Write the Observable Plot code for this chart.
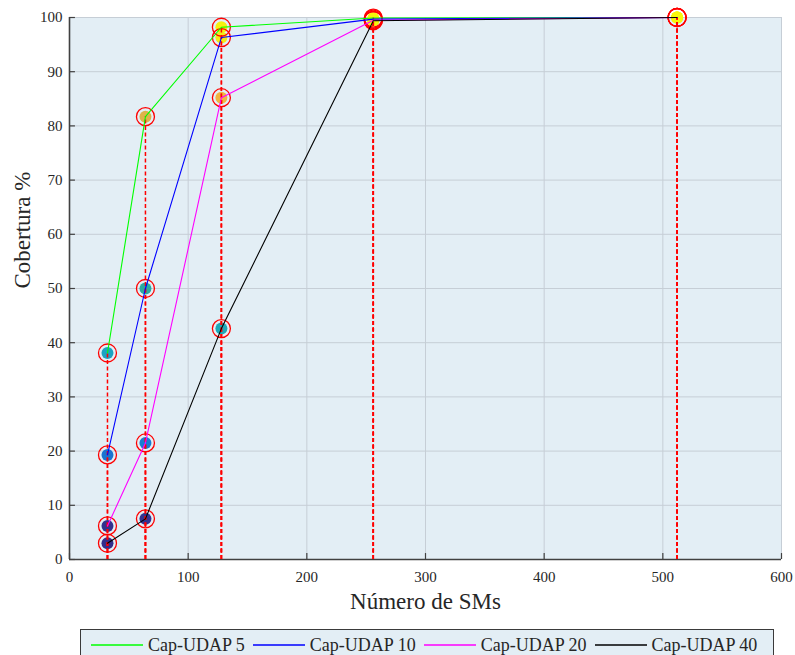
<!DOCTYPE html>
<html>
<head>
<meta charset="utf-8">
<script src="https://cdn.jsdelivr.net/npm/d3@7"></script>
<script src="https://cdn.jsdelivr.net/npm/@observablehq/plot@0.6"></script>
<style>
  body { margin: 0; background: #fff; font-family: 'Liberation Serif', 'Times New Roman', serif; }
  svg text { font-family: 'Liberation Serif', 'Times New Roman', serif; }
  #legend { margin-left: 80px; margin-top: 5px; width: 694px; height: 34px; border: 1px solid #3a3a3a; background: #e3eef5; display: flex; align-items: center; box-sizing: border-box; padding-left: 10px; padding-bottom: 2px; font-size: 18px; color: #262626; }
  .item { display: flex; align-items: center; margin-right: 8px; }
  .item svg { margin-right: 5px; display: block; }
</style>
</head>
<body>
<div id="chart"></div>
<div id="legend"></div>
<script>
const xs = [32, 64, 128, 256, 512];
const seriesNames = ["Cap-UDAP 5", "Cap-UDAP 10", "Cap-UDAP 20", "Cap-UDAP 40"];
const seriesColors = ["#00ff00", "#0000ff", "#ff00ff", "#000000"];
const cap5 = [38.1, 81.7, 98.2, 99.9, 100];
const cap10 = [19.3, 50.0, 96.3, 99.7, 100];
const cap20 = [6.2, 21.5, 85.2, 99.5, 100];
const cap40 = [3.0, 7.5, 42.6, 99.4, 100];
const xTicks = [0, 100, 200, 300, 400, 500, 600];
const yTicks = [0, 10, 20, 30, 40, 50, 60, 70, 80, 90, 100];
const xLabel = "Número de SMs";
const yLabel = "Cobertura %";

const values = [cap5, cap10, cap20, cap40];
const rows = seriesNames.flatMap((s, i) => xs.map((x, j) => ({series: s, x, y: values[i][j]})));

const cmap = d3.scaleLinear()
  .domain([0, 0.08, 0.2, 0.4, 0.5, 0.85, 0.96, 1])
  .range(["#352b88", "#333490", "#1a78d4", "#1ba8c0", "#2aab9f", "#f1b441", "#f4ea14", "#f8f70a"]);

const gridColor = "#c6ced6";
const axisColor = "#404040";
const serif = "'Liberation Serif', 'Times New Roman', serif";

const chart = Plot.plot({
  width: 795,
  height: 624,
  marginLeft: 69,
  marginRight: 14,
  marginTop: 17,
  marginBottom: 65,
  style: {fontFamily: serif, fontSize: "15px", color: "#262626", background: "#fff"},
  x: {domain: [0, 600], axis: null},
  y: {domain: [0, 100], axis: null},
  color: {type: "linear", domain: [0, 100], interpolate: t => cmap(t)},
  marks: [
    Plot.frame({fill: "#e3eef5", stroke: "none"}),
    Plot.ruleX(xTicks.slice(1), {stroke: gridColor, strokeWidth: 1}),
    Plot.ruleY(yTicks.slice(1), {stroke: gridColor, strokeWidth: 1}),
    Plot.ruleX(xTicks, {y1: 0, y2: 1.1, stroke: axisColor, strokeWidth: 1.2}),
    Plot.ruleY(yTicks, {x1: 0, x2: 5, stroke: axisColor, strokeWidth: 1.2}),
    Plot.ruleX([0], {stroke: axisColor, strokeWidth: 1.6}),
    Plot.ruleY([0], {stroke: axisColor, strokeWidth: 1.6}),
    Plot.axisX(xTicks, {tickSize: 0, tickPadding: 12, fontSize: 15, fontFamily: serif, label: null}),
    Plot.axisY(yTicks, {tickSize: 0, tickPadding: 7, fontSize: 15, fontFamily: serif, label: null}),
    Plot.text([xLabel], {frameAnchor: "bottom", dy: 49, lineAnchor: "bottom", fontSize: 23, fontFamily: serif, fill: "#262626"}),
    Plot.text([yLabel], {frameAnchor: "left", dx: -46.5, rotate: -90, lineAnchor: "middle", fontSize: 23, fontFamily: serif, fill: "#262626"}),
    Plot.dot(rows, {x: "x", y: "y", r: 6, fill: "y"}),
    Plot.ruleX(rows, {x: "x", y1: 0, y2: "y", stroke: "#ff0000", strokeWidth: 1.5, strokeDasharray: "4,2.5"}),
    Plot.dot(rows, {x: "x", y: "y", r: 9, stroke: "#ff0000", strokeWidth: 1.3, fill: "none"}),
    ...seriesNames.map((s, i) => Plot.line(rows.filter(d => d.series === s), {x: "x", y: "y", stroke: seriesColors[i], strokeWidth: 1.1}))
  ]
});
document.getElementById("chart").append(chart);

const legend = d3.select("#legend");
seriesNames.forEach((s, i) => {
  const item = legend.append("div").attr("class", "item");
  const sv = item.append("svg").attr("width", 52).attr("height", 6);
  sv.append("line").attr("x1", 0).attr("x2", 52).attr("y1", 3).attr("y2", 3)
    .attr("stroke", seriesColors[i]).attr("stroke-width", 1.3);
  item.append("span").text(s);
});
</script>
</body>
</html>
